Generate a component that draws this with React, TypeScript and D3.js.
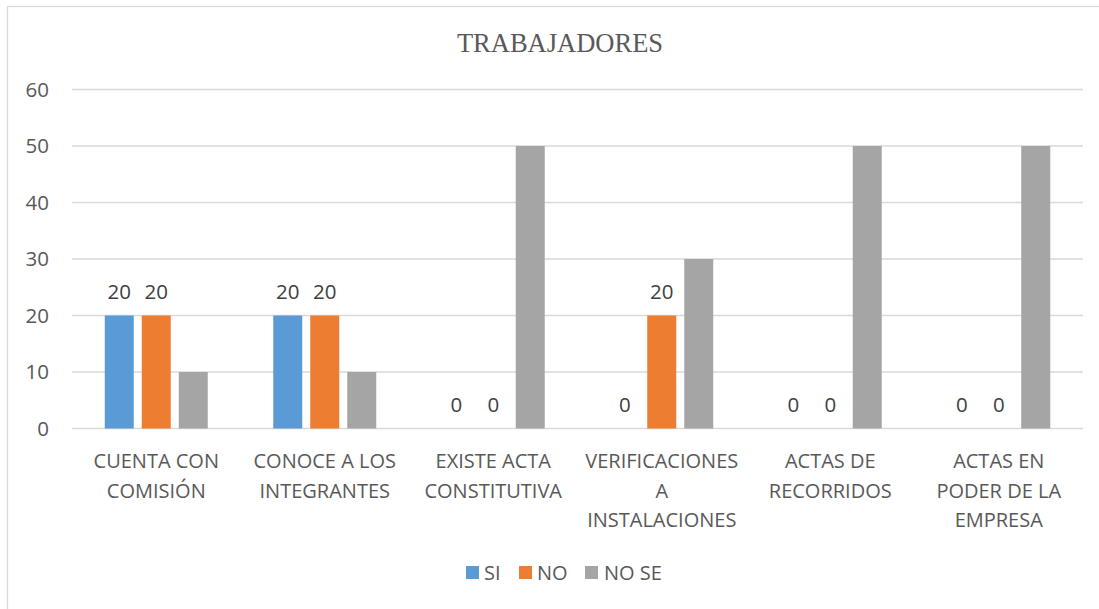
import React from "react";
import * as d3 from "d3";

const categories = [
  "CUENTA CON COMISIÓN",
  "CONOCE A LOS INTEGRANTES",
  "EXISTE ACTA CONSTITUTIVA",
  "VERIFICACIONES A INSTALACIONES",
  "ACTAS DE RECORRIDOS",
  "ACTAS EN PODER DE LA EMPRESA",
];
const categoryLines = [
  ["CUENTA CON", "COMISIÓN"],
  ["CONOCE A LOS", "INTEGRANTES"],
  ["EXISTE ACTA", "CONSTITUTIVA"],
  ["VERIFICACIONES", "A", "INSTALACIONES"],
  ["ACTAS DE", "RECORRIDOS"],
  ["ACTAS EN", "PODER DE LA", "EMPRESA"],
];
const seriesNames = ["SI", "NO", "NO SE"];
const siValues = [20, 20, 0, 0, 0, 0];
const noValues = [20, 20, 0, 20, 0, 0];
const noSeValues = [10, 10, 50, 30, 50, 50];
const seriesColors = ["#5B9BD5", "#ED7D31", "#A5A5A5"];
const labelledSeries = [true, true, false];
const yTicks = [0, 10, 20, 30, 40, 50, 60];

const W = 1099;
const H = 609;
const FONT = "'Open Sans', sans-serif";
const TEXT = "#595959";

export default function App() {
  const series = [siValues, noValues, noSeValues];
  const x0 = d3.scaleBand<string>().domain(categories).range([72, 1083]).padding(0);
  const groupPad = 32.75;
  const x1 = d3
    .scaleBand<number>()
    .domain([0, 1, 2])
    .range([groupPad, x0.bandwidth() - groupPad])
    .paddingInner(8 / 37)
    .paddingOuter(0);
  const y = d3.scaleLinear().domain([0, 60]).range([428.5, 89.5]);

  const legendItems = [
    { x: 466, tx: 484 },
    { x: 519, tx: 537 },
    { x: 585, tx: 604 },
  ];

  return (
    <div style={{ position: "fixed", left: 0, top: 0 }}>
      <svg width={W} height={H} style={{ display: "block", background: "#fff" }}>
        <rect x={7.5} y={6.5} width={W + 10} height={H + 10} fill="#fff" stroke="#D9D9D9" strokeWidth={1.3} />
        <text x={560} y={52} textAnchor="middle" fontFamily="'Liberation Serif', 'Times New Roman', serif" fontSize={26.5} fill={TEXT}>
          TRABAJADORES
        </text>
        {yTicks.map((t) => (
          <g key={t}>
            <line x1={72} x2={1083} y1={y(t)} y2={y(t)} stroke="#D9D9D9" strokeWidth={1.3} />
            <text x={49} y={y(t)} dy="0.35em" textAnchor="end" fontFamily={FONT} fontSize={20.5} fill={TEXT}>
              {t}
            </text>
          </g>
        ))}
        {categories.map((c, ci) => (
          <g key={c} transform={`translate(${x0(c)},0)`}>
            {series.map((vals, si) => (
              <rect
                key={si}
                x={x1(si)}
                y={y(vals[ci])}
                width={x1.bandwidth()}
                height={y(0) - y(vals[ci])}
                fill={seriesColors[si]}
              />
            ))}
            {series.map((vals, si) =>
              labelledSeries[si] ? (
                <text
                  key={"l" + si}
                  x={(x1(si) as number) + x1.bandwidth() / 2}
                  y={y(vals[ci]) - 16.5}
                  textAnchor="middle"
                  fontFamily={FONT}
                  fontSize={20.5}
                  fill="#404040"
                >
                  {vals[ci]}
                </text>
              ) : null
            )}
            {categoryLines[ci].map((line, li) => (
              <text
                key={"c" + li}
                x={x0.bandwidth() / 2}
                y={468 + li * 29.5}
                textAnchor="middle"
                fontFamily={FONT}
                fontSize={20}
                fill={TEXT}
              >
                {line}
              </text>
            ))}
          </g>
        ))}
        {seriesNames.map((name, i) => (
          <g key={name}>
            <rect x={legendItems[i].x} y={566} width={13} height={13} fill={seriesColors[i]} />
            <text x={legendItems[i].tx} y={572.5} dy="0.35em" fontFamily={FONT} fontSize={20} fill={TEXT}>
              {name}
            </text>
          </g>
        ))}
      </svg>
    </div>
  );
}
